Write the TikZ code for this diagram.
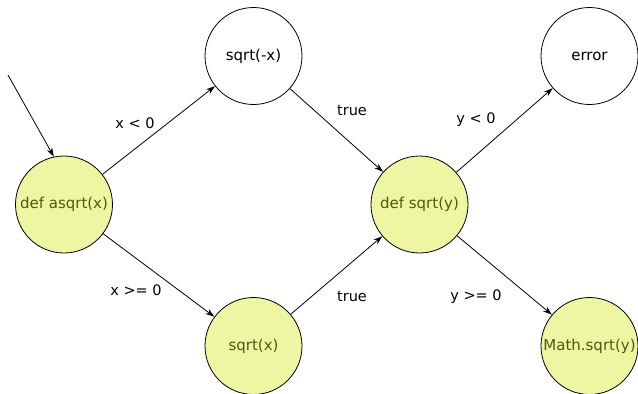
\documentclass[tikz,border=0pt]{standalone}
\usepackage{fontspec}
\setmainfont{DejaVu Sans}
\usetikzlibrary{arrows.meta}
\definecolor{nodefill}{HTML}{EEF5A3}
\definecolor{nodetext}{HTML}{4D5A10}
\begin{document}
\begin{tikzpicture}[x=1pt,y=-1pt,
  state/.style={circle,draw=black,line width=0.8pt,minimum size=97pt,inner sep=0pt,font=\fontsize{15}{18}\selectfont},
  active/.style={state,fill=nodefill,text=nodetext},
  plain/.style={state,fill=white,text=black},
  edge/.style={line width=0.8pt,-{Stealth[length=9pt,width=6pt]}},
  lbl/.style={font=\fontsize{14.5}{17}\selectfont,inner sep=1pt}]
\useasboundingbox (0,0) rectangle (638,394);
\node[active] (asqrt) at (64,204.5) {def asqrt(x)};
\node[plain] (negx) at (253.5,56) {sqrt(-x)};
\node[active] (posx) at (253.5,346) {sqrt(x)};
\node[active] (sqrty) at (419.5,204.5) {def sqrt(y)};
\node[plain] (err) at (589.5,56) {error};
\node[active] (math) at (589.5,346) {Math.sqrt(y)};
\coordinate (start) at (8,75);
\draw[edge] (start) -- (asqrt.102);
\draw[edge] (asqrt) -- (negx);
\draw[edge] (asqrt) -- (posx);
\draw[edge] (negx) -- (sqrty);
\draw[edge] (posx) -- (sqrty);
\draw[edge] (sqrty) -- (err);
\draw[edge] (sqrty) -- (math);
\node[lbl] (l1) at (135,123) {x < 0};
\node[lbl] (l2) at (136,290) {x >= 0};
\node[lbl] (l3) at (352,111) {true};
\node[lbl] (l4) at (352,297) {true};
\node[lbl] (l5) at (476,120) {y < 0};
\node[lbl] (l6) at (476,297) {y >= 0};
\end{tikzpicture}
\end{document}
